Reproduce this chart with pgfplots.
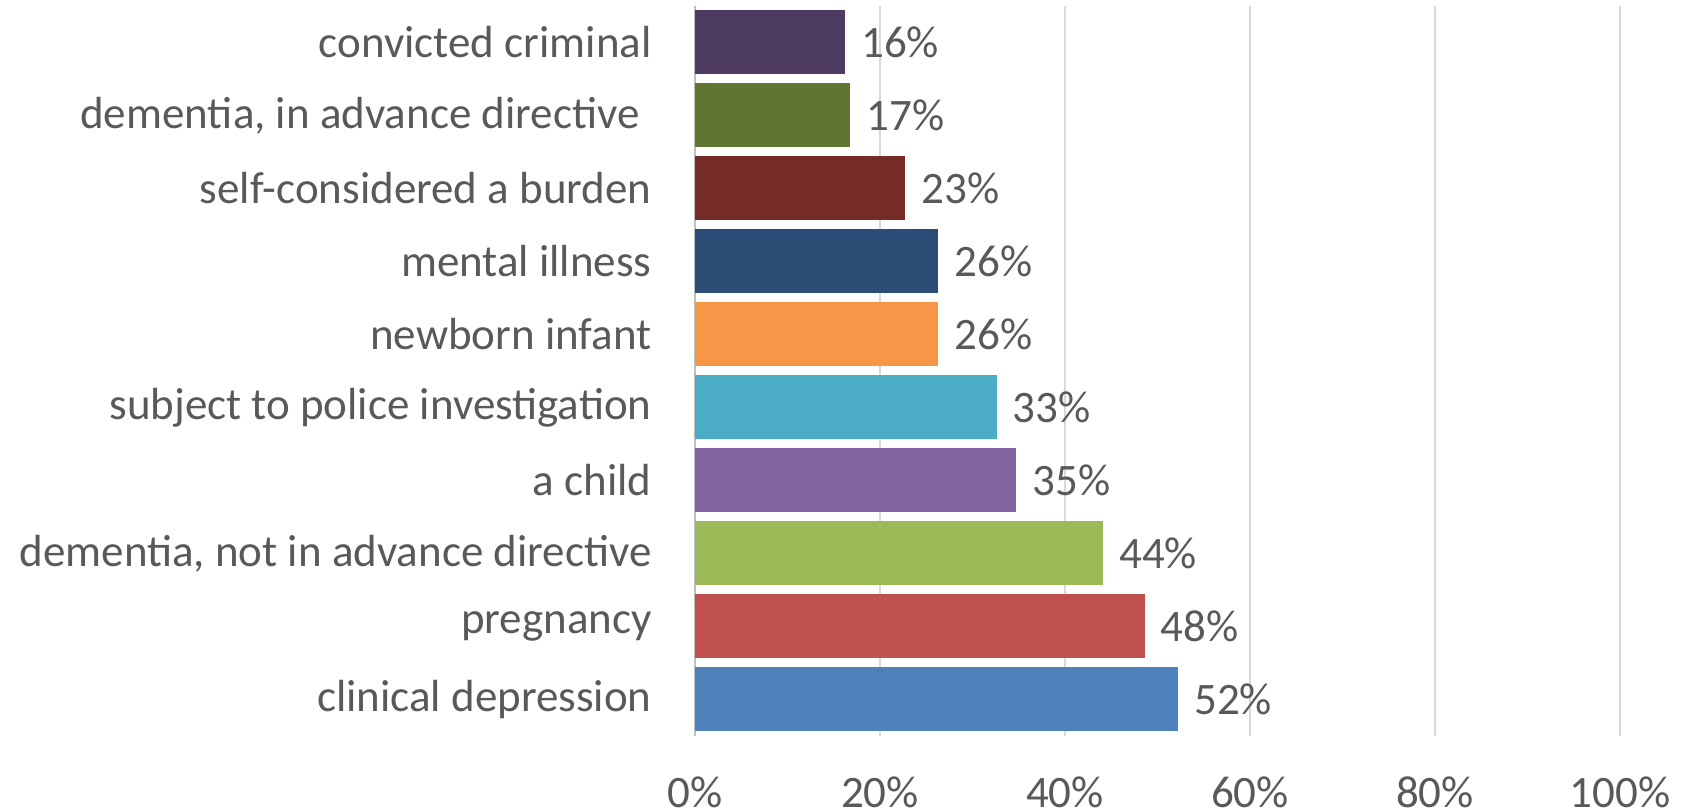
\documentclass[border=0pt]{standalone}
\usepackage{pgfplots}
\pgfplotsset{compat=1.18}
\usepackage{fontspec}
\setmainfont{Carlito}
\definecolor{txt}{HTML}{595959}
\definecolor{gridc}{HTML}{D9D9D9}
\definecolor{axc}{HTML}{BFBFBF}
\definecolor{c0}{HTML}{4F81BD}
\definecolor{c1}{HTML}{C0504D}
\definecolor{c2}{HTML}{9BBB59}
\definecolor{c3}{HTML}{8064A2}
\definecolor{c4}{HTML}{4BACC6}
\definecolor{c5}{HTML}{F79646}
\definecolor{c6}{HTML}{2C4D75}
\definecolor{c7}{HTML}{772C2A}
\definecolor{c8}{HTML}{5F7530}
\definecolor{c9}{HTML}{4D3B62}
\newcommand{\lblfont}{\fontsize{22.5}{27}\selectfont}
\begin{document}
\begin{tikzpicture}
\useasboundingbox (-347.5pt,-38pt) rectangle (494.5pt,368pt);
\begin{axis}[
  at={(0,0)}, anchor=south west,
  scale only axis, width=462.5pt, height=365pt,
  xbar, bar width=32pt,
  xmin=0, xmax=100, ymin=-0.5, ymax=9.5,
  xtick={0,20,40,60,80,100},
  xticklabels={0\%,20\%,40\%,60\%,80\%,100\%},
  ytick={0,1,2,3,4,5,6,7,8,9},
  yticklabels={clinical depression,pregnancy,{dementia, not in advance directive},a child,subject to police investigation,newborn infant,mental illness,self-considered a burden,{dementia, in advance directive\kern6pt},convicted criminal},
  major tick length=0pt,
  tick style={draw=none},
  axis line style={draw=none},
  xmajorgrids,
  grid style={draw=gridc, line width=0.75pt},
  extra x ticks={0}, extra x tick labels={},
  extra x tick style={grid style={draw=axc, line width=0.75pt}},
  yticklabel style={font=\lblfont, text=txt, inner sep=0pt, anchor=east, xshift=-21.5pt},
  xticklabel style={font=\lblfont, text=txt, inner sep=0pt, anchor=north, yshift=-20pt},
  point meta=explicit symbolic,
  nodes near coords,
  every node near coord/.append style={font=\lblfont, text=txt, anchor=west, inner sep=0pt, xshift=8pt},
  clip=false,
  mybar/.style={fill=#1, draw=none, bar shift=0pt},
]
\addplot[mybar=c0] coordinates {(52.2,0) [52\%]};
\addplot[mybar=c1] coordinates {(48.6,1) [48\%]};
\addplot[mybar=c2] coordinates {(44.1,2) [44\%]};
\addplot[mybar=c3] coordinates {(34.7,3) [35\%]};
\addplot[mybar=c4] coordinates {(32.6,4) [33\%]};
\addplot[mybar=c5] coordinates {(26.3,5) [26\%]};
\addplot[mybar=c6] coordinates {(26.3,6) [26\%]};
\addplot[mybar=c7] coordinates {(22.7,7) [23\%]};
\addplot[mybar=c8] coordinates {(16.8,8) [17\%]};
\addplot[mybar=c9] coordinates {(16.2,9) [16\%]};
\end{axis}
\end{tikzpicture}
\end{document}
